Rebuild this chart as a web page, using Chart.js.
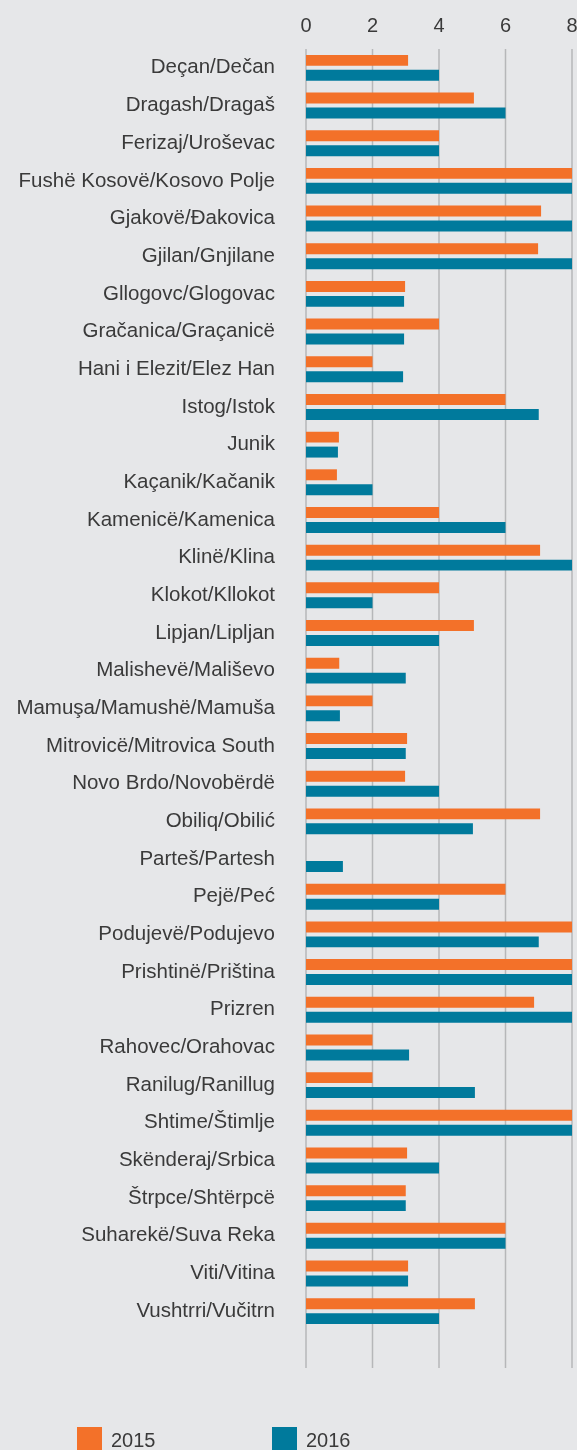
<!DOCTYPE html>
<html>
<head>
<meta charset="utf-8">
<script src="https://cdn.jsdelivr.net/npm/chart.js@4.4.1/dist/chart.umd.min.js"></script>
<style>
    html, body { margin: 0; padding: 0; background: #e6e7e9; overflow: hidden; }
    #chart { display: block; }
</style>
</head>
<body>
<canvas id="chart" width="577" height="1450"></canvas>
<script>
const municipalities = [
    'Deçan/Dečan', 'Dragash/Dragaš', 'Ferizaj/Uroševac', 'Fushë Kosovë/Kosovo Polje',
    'Gjakovë/Đakovica', 'Gjilan/Gnjilane', 'Gllogovc/Glogovac', 'Gračanica/Graçanicë',
    'Hani i Elezit/Elez Han', 'Istog/Istok', 'Junik', 'Kaçanik/Kačanik',
    'Kamenicë/Kamenica', 'Klinë/Klina', 'Klokot/Kllokot', 'Lipjan/Lipljan',
    'Malishevë/Mališevo', 'Mamuşa/Mamushë/Mamuša', 'Mitrovicë/Mitrovica South',
    'Novo Brdo/Novobërdë', 'Obiliq/Obilić', 'Parteš/Partesh', 'Pejë/Peć',
    'Podujevë/Podujevo', 'Prishtinë/Priština', 'Prizren', 'Rahovec/Orahovac',
    'Ranilug/Ranillug', 'Shtime/Štimlje', 'Skënderaj/Srbica', 'Štrpce/Shtërpcë',
    'Suharekë/Suva Reka', 'Viti/Vitina', 'Vushtrri/Vučitrn'
];

const values2015 = [
    3.07, 5.05, 4, 8, 7.07, 6.98, 2.98, 4, 2, 6, 0.99, 0.93,
    4, 7.04, 4, 5.05, 1.0, 2, 3.04, 2.98, 7.04, null, 6,
    8, 8, 6.86, 2, 2, 8, 3.04, 3.0, 6, 3.07, 5.08
];

const values2016 = [
    4, 6, 4, 8, 8, 8, 2.95, 2.95, 2.92, 7, 0.96, 2,
    6, 8, 2, 4, 3, 1.02, 3, 4, 5.02, 1.11, 4,
    7, 8, 8, 3.1, 5.08, 8, 4, 3, 6, 3.07, 4
];

const seriesNames = ['2015', '2016'];
const xTicks = [0, 2, 4, 6, 8];

const ORANGE = '#f37129';
const TEAL = '#007a9c';
const GRID = '#b6b7b9';
const TEXT = '#3a3a3a';
const FONT = "'Liberation Sans', Arial, sans-serif";

// grid lines run a bit past the last bar, like the original
const extendedGrid = {
    id: 'extendedGrid',
    beforeDatasetsDraw(chart) {
        const x = chart.scales.x;
        const area = chart.chartArea;
        const ctx = chart.ctx;
        ctx.save();
        ctx.strokeStyle = GRID;
        ctx.lineWidth = 1.5;
        xTicks.forEach(t => {
            const px = x.getPixelForValue(t);
            ctx.beginPath();
            ctx.moveTo(px, area.top);
            ctx.lineTo(px, area.bottom + 38);
            ctx.stroke();
        });
        ctx.restore();
    }
};

// legend sits left of centre in the original, so draw it by hand
const bottomLegend = {
    id: 'bottomLegend',
    afterDraw(chart) {
        const ctx = chart.ctx;
        const starts = [77, 272];
        ctx.save();
        ctx.font = '20px ' + FONT;
        ctx.textBaseline = 'middle';
        chart.data.datasets.forEach((ds, i) => {
            ctx.fillStyle = ds.backgroundColor;
            ctx.fillRect(starts[i], 1427, 25, 25);
            ctx.fillStyle = TEXT;
            ctx.fillText(ds.label, starts[i] + 34, 1441);
        });
        ctx.restore();
    }
};

const ctx = document.getElementById('chart').getContext('2d');
new Chart(ctx, {
    type: 'bar',
    data: {
        labels: municipalities,
        datasets: [
            {
                label: seriesNames[0],
                data: values2015,
                backgroundColor: ORANGE,
                categoryPercentage: 0.794,
                barPercentage: 0.733
            },
            {
                label: seriesNames[1],
                data: values2016,
                backgroundColor: TEAL,
                categoryPercentage: 0.794,
                barPercentage: 0.733
            }
        ]
    },
    options: {
        indexAxis: 'y',
        responsive: false,
        animation: false,
        layout: {
            padding: { top: 3, bottom: 120, left: 0, right: 5 }
        },
        plugins: {
            legend: { display: false },
            tooltip: { enabled: false }
        },
        scales: {
            x: {
                position: 'top',
                min: 0,
                max: 8,
                afterBuildTicks(scale) {
                    scale.ticks = xTicks.map(v => ({ value: v }));
                },
                afterFit(scale) {
                    // let the "8" run off the edge as in the original
                    scale.paddingRight = 0;
                    scale.paddingLeft = 0;
                },
                grid: { display: false, drawTicks: false },
                border: { display: false },
                ticks: {
                    padding: 11,
                    color: TEXT,
                    font: { family: FONT, size: 20 }
                }
            },
            y: {
                afterFit(scale) {
                    scale.width = 306;
                },
                grid: { display: false, drawTicks: false },
                border: { display: false },
                ticks: {
                    padding: 31,
                    color: TEXT,
                    autoSkip: false,
                    font: { family: FONT, size: 20.5 }
                }
            }
        }
    },
    plugins: [extendedGrid, bottomLegend]
});
</script>
</body>
</html>
